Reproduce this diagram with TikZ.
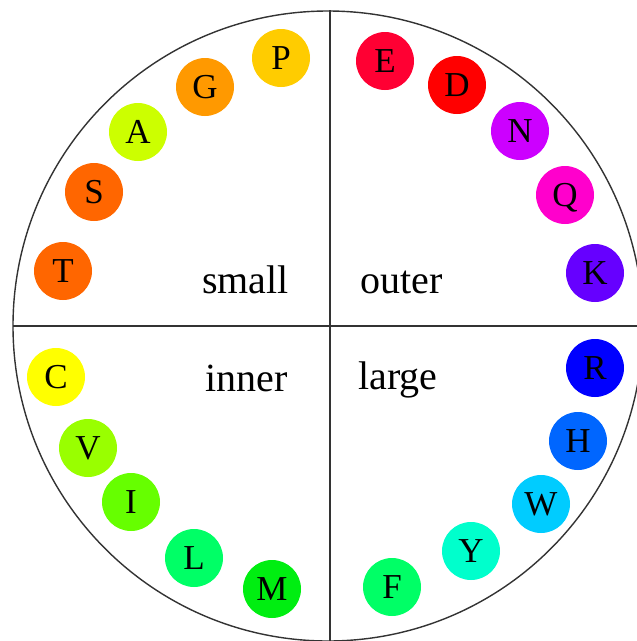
\documentclass[tikz,border=0pt]{standalone}
\usepackage{fontspec}
\setmainfont{Liberation Serif}
\begin{document}
\begin{tikzpicture}[x=1pt,y=-1pt,
  ball/.style={circle,minimum size=58pt,inner sep=0pt,text height=23pt,text depth=0pt,font=\fontsize{35}{35}\selectfont},
  lbl/.style={font=\fontsize{40}{40}\selectfont,inner sep=0pt,anchor=base west},
  rim/.style={line width=1.4pt,draw=black!80},
  divider/.style={line width=1.6pt,draw=black!80}]
\useasboundingbox (0,0) rectangle (637,641);
\clip (0,0) rectangle (637,641);
\definecolor{cP}{HTML}{FFCC00}
\definecolor{cG}{HTML}{FF9900}
\definecolor{cA}{HTML}{CCFF00}
\definecolor{cS}{HTML}{FF6600}
\definecolor{cT}{HTML}{FF6600}
\definecolor{cE}{HTML}{FF0033}
\definecolor{cD}{HTML}{FF0000}
\definecolor{cN}{HTML}{CC00FF}
\definecolor{cQ}{HTML}{FF00CC}
\definecolor{cK}{HTML}{6600FF}
\definecolor{cR}{HTML}{0000FF}
\definecolor{cH}{HTML}{0066FF}
\definecolor{cW}{HTML}{00CCFF}
\definecolor{cY}{HTML}{00FFCC}
\definecolor{cF}{HTML}{00FF66}
\definecolor{cC}{HTML}{FFFF00}
\definecolor{cV}{HTML}{99FF00}
\definecolor{cI}{HTML}{66FF00}
\definecolor{cL}{HTML}{00FF66}
\definecolor{cM}{HTML}{00EE11}
\draw[rim] (328,326) circle (315pt);
\coordinate (hl) at (13,326);
\coordinate (hr) at (637,326);
\coordinate (vt) at (330,10);
\coordinate (vb) at (330,641);
\draw[divider] (hl) -- (hr);
\draw[divider] (vt) -- (vb);
% small quadrant
\node[ball,fill=cP] (P) at (281,58) {P};
\node[ball,fill=cG] (G) at (205,87) {G};
\node[ball,fill=cA] (A) at (138,132) {A};
\node[ball,fill=cS] (S) at (94,192) {S};
\node[ball,fill=cT] (T) at (63,271) {T};
% outer quadrant
\node[ball,fill=cE] (E) at (385,61) {E};
\node[ball,fill=cD] (D) at (457,85) {D};
\node[ball,fill=cN] (N) at (520,131) {N};
\node[ball,fill=cQ] (Q) at (565,195) {Q};
\node[ball,fill=cK] (K) at (595,273) {K};
% inner quadrant
\node[ball,fill=cC] (C) at (56,377) {C};
\node[ball,fill=cV] (V) at (88,448) {V};
\node[ball,fill=cI] (I) at (131,502) {I};
\node[ball,fill=cL] (L) at (194,558) {L};
\node[ball,fill=cM] (M) at (272,589) {M};
% large quadrant
\node[ball,fill=cR] (R) at (595,368) {R};
\node[ball,fill=cH] (H) at (578,441) {H};
\node[ball,fill=cW] (W) at (541,504) {W};
\node[ball,fill=cY] (Y) at (471,551) {Y};
\node[ball,fill=cF] (F) at (392,587) {F};
% quadrant labels
\node[lbl] (small) at (202,293) {small};
\node[lbl] (outer) at (360,293) {outer};
\node[lbl] (inner) at (205,391) {inner};
\node[lbl] (large) at (358,389) {large};
\end{tikzpicture}
\end{document}
